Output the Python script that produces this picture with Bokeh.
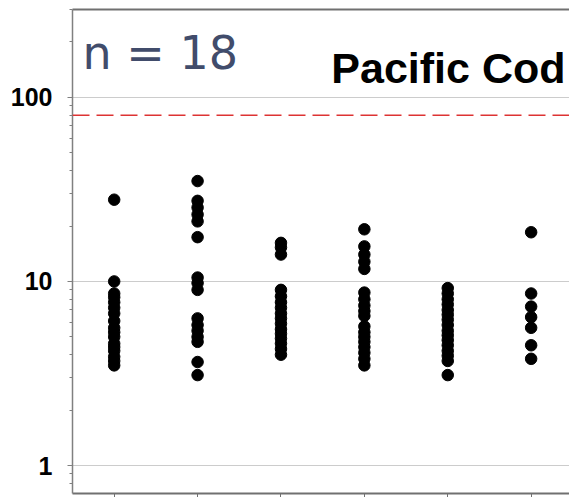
from bokeh.plotting import figure
from bokeh.models import Range1d, FixedTicker, Span, Label, NumeralTickFormatter, LinearAxis
from bokeh.embed import file_html
from bokeh.resources import INLINE

# ---- data ----
group_positions = [1, 2, 3, 4, 5, 6]
group1 = [27.8, 10.0, 8.6, 8.2, 7.7, 7.2, 6.7, 6.1, 5.6, 5.3, 5.0, 4.6, 4.4, 4.2, 3.9, 3.7, 3.5]
group2 = [35.1, 27.4, 25.2, 23.1, 21.2, 17.4, 10.5, 9.8, 9.0, 6.3, 5.8, 5.4, 5.0, 4.7, 3.65, 3.1]
group3 = [16.2, 15.3, 14.0, 9.0, 8.3, 7.7, 7.2, 6.7, 6.3, 5.9, 5.5, 5.2, 4.9, 4.6, 4.3, 4.0]
group4 = [19.2, 15.5, 14.0, 12.8, 11.7, 8.7, 8.0, 7.4, 6.9, 6.5, 5.7, 5.3, 5.0, 4.7, 4.4, 4.1, 3.8, 3.5]
group5 = [9.2, 8.6, 8.0, 7.5, 7.0, 6.6, 6.2, 5.8, 5.4, 5.1, 4.8, 4.5, 4.2, 3.95, 3.7, 3.1]
group6 = [18.5, 8.6, 7.3, 6.4, 5.6, 4.5, 3.8]
groups = [group1, group2, group3, group4, group5, group6]
threshold = 80
y_ticks = [1, 10, 100]
sample_text = "n = 18"
species = "Pacific Cod"

xs, ys = [], []
for pos, vals in zip(group_positions, groups):
    xs += [pos] * len(vals)
    ys += vals

p = figure(width=569, height=497, y_axis_type="log",
           x_range=Range1d(0.5, 6.46), y_range=Range1d(0.705, 300),
           output_backend="svg", toolbar_location=None,
           min_border_left=72, min_border_right=0, min_border_top=9, min_border_bottom=4)

p.outline_line_color = None
p.background_fill_color = "white"
p.border_fill_color = "white"

p.xgrid.visible = False
p.ygrid.grid_line_color = "#cccccc"
p.ygrid.grid_line_width = 1.2

# top border line
top_axis = LinearAxis(ticker=FixedTicker(ticks=[]), axis_line_color="#8a8a8a",
                      axis_line_width=1.5, major_tick_line_color=None,
                      minor_tick_line_color=None, major_label_standoff=0)
p.add_layout(top_axis, "above")

# y axis
minor = [m * d for d in [0.1, 1, 10, 100] for m in range(2, 10)]
p.yaxis.ticker = FixedTicker(ticks=y_ticks, minor_ticks=minor)
p.yaxis.formatter = NumeralTickFormatter(format="0")
p.yaxis.axis_line_color = "#808080"
p.yaxis.axis_line_width = 1.5
p.yaxis.major_tick_line_color = "#808080"
p.yaxis.minor_tick_line_color = "#808080"
p.yaxis.major_tick_in = 0
p.yaxis.major_tick_out = 5
p.yaxis.minor_tick_in = 0
p.yaxis.minor_tick_out = 3
p.yaxis.major_label_text_font = "Liberation Sans"
p.yaxis.major_label_text_font_style = "bold"
p.yaxis.major_label_text_font_size = "25px"
p.yaxis.major_label_text_color = "black"
p.yaxis.major_label_standoff = 15

# x axis (labels lie below the visible area in the reference)
p.below[0].ticker = FixedTicker(ticks=group_positions, minor_ticks=[])
p.xaxis.axis_line_color = "#707070"
p.xaxis.axis_line_width = 2
p.xaxis.major_tick_line_color = "#707070"
p.xaxis.major_tick_in = 0
p.xaxis.major_tick_out = 4
p.xaxis.major_label_overrides = {pos: "" for pos in group_positions}
p.xaxis.major_label_text_font_size = "1px"
p.xaxis.major_label_standoff = 0

p.scatter(xs, ys, size=11.5, color="black")

p.add_layout(Span(location=threshold, dimension="width", line_color="#dd3333",
                  line_dash="17 7", line_width=1.6))

p.add_layout(Label(x=10, y=441, x_units="screen", y_units="screen", text=sample_text,
                   text_baseline="alphabetic",
                   text_font="DejaVu Sans", text_font_size="46px", text_color="#414c6b"))
p.add_layout(Label(x=493, y=426, x_units="screen", y_units="screen", text=species,
                   text_align="right", text_baseline="alphabetic",
                   text_font="Liberation Sans", text_font_style="bold",
                   text_font_size="43px", text_color="black"))

open("out.html", "w").write(file_html(p, INLINE))
